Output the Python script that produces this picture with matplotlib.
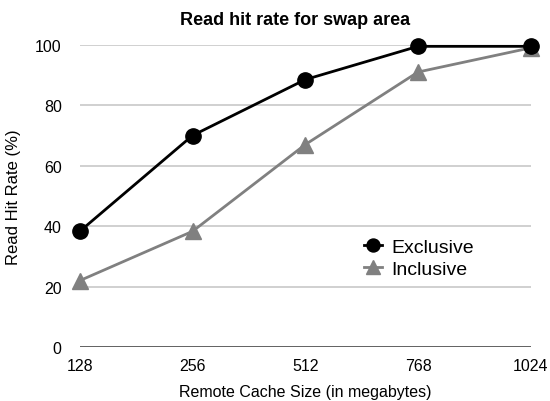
import matplotlib.pyplot as plt
import numpy as np

plt.rcParams['font.family'] = ['Liberation Sans', 'DejaVu Sans']

# Data
cache_sizes = ['128', '256', '512', '768', '1024']
exclusive = [38.3, 70.0, 88.5, 99.5, 99.5]
inclusive = [22.0, 38.3, 67.0, 91.0, 99.0]

fig = plt.figure(figsize=(5.5, 4.02), dpi=100)
ax = fig.add_axes([0.145, 0.134, 0.82, 0.752])

x = np.arange(len(cache_sizes))

ax.plot(x, inclusive, color='#808080', linewidth=2.0, marker='^', markersize=12,
        label='Inclusive', clip_on=False, zorder=3)
ax.plot(x, exclusive, color='black', linewidth=2.0, marker='o', markersize=11,
        label='Exclusive', clip_on=False, zorder=4)

ax.set_xlim(0, len(cache_sizes) - 1)
ax.set_ylim(0, 100)
ax.set_yticks([0, 20, 40, 60, 80, 100])
ax.set_xticks(x)
ax.set_xticklabels(cache_sizes)
ax.tick_params(axis='both', length=0, labelsize=11.5)
ax.tick_params(axis='y', pad=13)
ax.tick_params(axis='x', pad=8)

for y in [20, 40, 60, 80, 100]:
    ax.axhline(y, color='#c8c8c8', linewidth=1.2, zorder=1)
ax.axhline(0, color='#333333', linewidth=1.8, zorder=2)

for side in ['top', 'right', 'left', 'bottom']:
    ax.spines[side].set_visible(False)

ax.set_xlabel('Remote Cache Size (in megabytes)', fontsize=11.5, labelpad=8)
ax.set_ylabel('Read Hit Rate (%)', fontsize=12, labelpad=10)
ax.set_title('Read hit rate for swap area', fontsize=13, fontweight='bold', pad=15, x=0.478)

handles, labels = ax.get_legend_handles_labels()
leg = ax.legend(handles[::-1], labels[::-1], loc='center left', bbox_to_anchor=(0.592, 0.295),
                frameon=False, fontsize=14, handlelength=0.9, handletextpad=0.5,
                labelspacing=0.25, markerscale=0.85)

fig.savefig('out.png', dpi=100, facecolor='white')
